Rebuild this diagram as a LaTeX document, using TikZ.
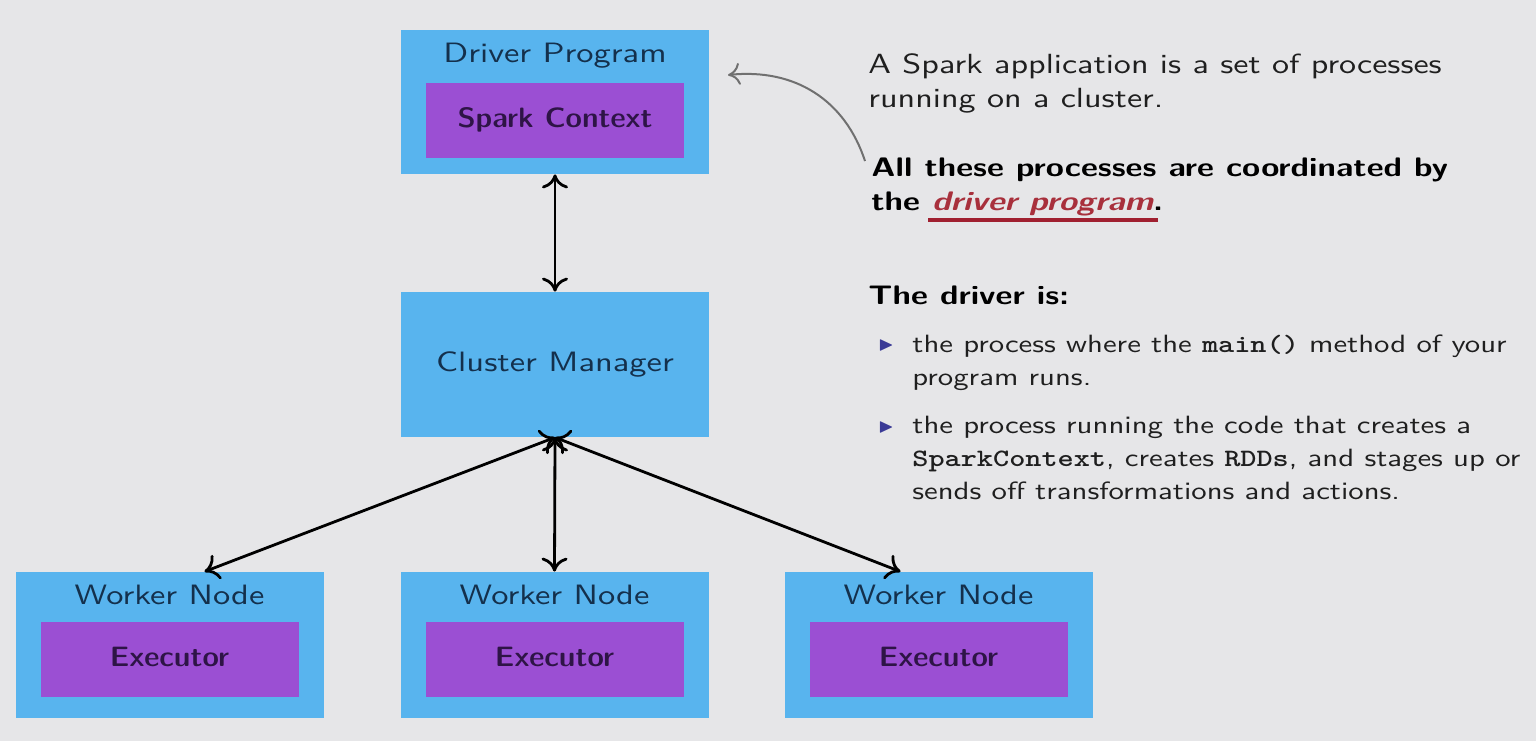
\documentclass[tikz,border=0pt]{standalone}
\usepackage{fontspec}
\usepackage{amssymb}
\usepackage{xcolor}
\usepackage{tikz}
\usetikzlibrary{arrows.meta,positioning}
\setsansfont{lmsans10-regular.otf}[BoldFont=lmsans10-bold.otf, ItalicFont=lmsans10-oblique.otf,
    BoldItalicFont=lmsans10-boldoblique.otf, FakeStretch=1.23]
\setmonofont{lmmono10-regular.otf}[BoldFont=lmmonolt10-bold.otf, FakeStretch=1.23]
\newfontfamily\boxboldfont{lmsansdemicond10-regular.otf}[FakeStretch=1.23]
\definecolor{slidebg}{HTML}{E6E6E8}
\definecolor{boxblue}{HTML}{58B4EE}
\definecolor{boxpurple}{HTML}{9B4FD3}
\definecolor{bluetext}{HTML}{14304C}
\definecolor{purpletext}{HTML}{2E1446}
\definecolor{alertred}{HTML}{A8303C}
\definecolor{ulred}{HTML}{A02030}
\definecolor{bulletblue}{HTML}{3A3A96}
\definecolor{pointergray}{HTML}{707070}
\newcommand{\redul}[1]{\setbox0\hbox{#1}\rlap{\kern-2pt\color{ulred}\rule[-6pt]{\dimexpr\wd0+4.5pt\relax}{2pt}}\box0}

\begin{document}
\begin{tikzpicture}[
    x=0.5pt, y=-0.5pt,
    bluebox/.style={rectangle, fill=boxblue, minimum width=154pt, inner sep=0},
    purplebox/.style={rectangle, fill=boxpurple, minimum width=129pt, minimum height=37.5pt, inner sep=0,
        text height=10pt, text depth=3pt, text=purpletext, font=\boxboldfont\fontsize{14}{17}\selectfont},
    boxtitle/.style={inner sep=0, text=bluetext, font=\sffamily\fontsize{14}{17}\selectfont},
    link/.style={line width=1.4pt, {To[length=7pt,width=13pt]}-{To[length=7pt,width=13pt]}},
    para/.style={anchor=north west, align=left, inner sep=0, text=black!88, font=\sffamily\fontsize{13.85}{17}\selectfont},
    boldpara/.style={para, text=black, font=\sffamily\bfseries\fontsize{13.4}{17}\selectfont},
    itemtext/.style={para, font=\sffamily\fontsize{12.5}{16.5}\selectfont},
    bullet/.style={inner sep=0, text=bulletblue, font=\fontsize{10}{10}\selectfont}]
\useasboundingbox (0,0) rectangle (1536,741);
\fill[slidebg] (0,0) rectangle (1536,741);

\node[bluebox, minimum height=72pt] (driver) at (555,102) {};
\node[boxtitle, anchor=base] (drivertitle) at ([yshift=-16.5pt]driver.north) {Driver Program};
\node[purplebox] (sparkcontext) at ([yshift=-9pt]driver.center) {Spark Context};

\node[bluebox, minimum height=72.5pt, text height=10pt, text depth=3pt, text=bluetext,
    font=\sffamily\fontsize{14}{17}\selectfont] (cluster) at (555,364.5) {Cluster Manager};

\foreach \i/\x in {1/169.5,2/554.5,3/938.5}{
    \node[bluebox, minimum height=73pt] (worker\i) at (\x,645) {};
    \node[boxtitle, anchor=base] (workertitle\i) at ([yshift=-16.5pt]worker\i.north) {Worker Node};
    \node[purplebox] (executor\i) at ([yshift=-7.25pt]worker\i.center) {Executor};
}

\draw[link] (driver.south) -- (cluster.north);
\draw[link] (cluster.south) -- ([xshift=17.5pt]worker1.north);
\draw[link] (cluster.south) -- (worker2.north);
\draw[link] (cluster.south) -- ([xshift=-19pt]worker3.north);

\node[para] (appdesc) at (868,53) {A Spark application is a set of processes\\running on a cluster.};
\node[boldpara] (coordtext) at (871,157)
    {All these processes are coordinated by\\the \redul{\textcolor{alertred}{\itshape driver program}}.};
\node[boldpara] (drivertext) at (868,285) {The driver is:};

\node[itemtext] (itemone) at (912,334) {the process where the \texttt{\bfseries main()} method of your\\program runs.};
\node[itemtext] (itemtwo) at (912,416) {the process running the code that creates a\\\texttt{\bfseries SparkContext}, creates \texttt{\bfseries RDDs}, and stages up or\\sends off transformations and actions.};
\node[bullet, anchor=west] (bulletone) at ([xshift=-17pt,yshift=-5.5pt]itemone.north west) {$\blacktriangleright$};
\node[bullet, anchor=west] (bullettwo) at ([xshift=-17pt,yshift=-5.5pt]itemtwo.north west) {$\blacktriangleright$};

\coordinate (pointerstart) at ([xshift=-3pt,yshift=-2pt]coordtext.north west);
\coordinate (pointerend) at (728,75);
\draw[pointergray, line width=1pt, -{To[length=6pt,width=11pt]}] (pointerstart) .. controls (845,100) and (795,68) .. (pointerend);
\end{tikzpicture}
\end{document}
